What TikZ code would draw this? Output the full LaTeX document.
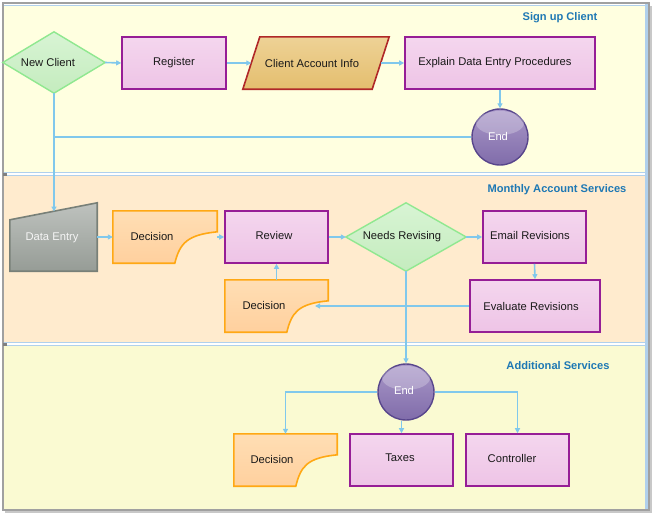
\documentclass[tikz,border=0pt]{standalone}
\usepackage{fontspec}
\setmainfont{Liberation Sans}
\usetikzlibrary{arrows.meta,calc}
\definecolor{connblue}{RGB}{128,200,236}
\definecolor{laneA}{RGB}{255,255,224}
\definecolor{laneB}{RGB}{255,235,206}
\definecolor{laneC}{RGB}{250,250,210}
\definecolor{laneline}{RGB}{176,208,236}
\definecolor{framegray}{RGB}{160,160,160}
\definecolor{shadowgray}{RGB}{200,200,200}
\definecolor{procborder}{RGB}{150,30,150}
\definecolor{proctop}{RGB}{244,214,238}
\definecolor{procbot}{RGB}{238,196,230}
\definecolor{decborder}{RGB}{144,232,144}
\definecolor{dectop}{RGB}{216,244,212}
\definecolor{decbot}{RGB}{196,236,190}
\definecolor{docborder}{RGB}{255,168,20}
\definecolor{doctop}{RGB}{255,222,180}
\definecolor{docbot}{RGB}{255,208,158}
\definecolor{databorder}{RGB}{176,40,40}
\definecolor{datatop}{RGB}{238,210,150}
\definecolor{databot}{RGB}{228,190,110}
\definecolor{inborder}{RGB}{120,128,120}
\definecolor{intop}{RGB}{190,194,190}
\definecolor{inbot}{RGB}{150,156,150}
\definecolor{endborder}{RGB}{88,70,140}
\definecolor{endtop}{RGB}{170,152,200}
\definecolor{endbot}{RGB}{128,108,170}
\definecolor{titleblue}{RGB}{30,120,180}
\begin{document}
\begin{tikzpicture}[x=1pt,y=-1pt,
  lbl/.style={font=\fontsize{11.2}{13}\selectfont,text=black!90},
  conn/.style={draw=connblue,line width=1.6pt},
  arr/.style={conn,-{Triangle[length=5pt,width=5pt]}},
  holder/.style={draw=none,inner sep=0pt,lbl},
  procbox/.style={draw=procborder,line width=1.6pt,top color=proctop,bottom color=procbot,inner sep=0pt,lbl},
  decshape/.style={draw=decborder,line width=1.4pt,top color=dectop,bottom color=decbot},
  docshape/.style={draw=docborder,line width=1.6pt,top color=doctop,bottom color=docbot},
  datashape/.style={draw=databorder,line width=1.6pt,top color=datatop,bottom color=databot},
  inshape/.style={draw=inborder,line width=1.6pt,top color=intop,bottom color=inbot},
  endball/.style={circle,draw=endborder,line width=1.4pt,top color=endtop,bottom color=endbot,minimum size=56pt,inner sep=0pt,font=\fontsize{11.2}{13}\selectfont,text=white},
  gloss/.style={fill=white,fill opacity=0.25,draw=none},
  lanetitle/.style={font=\bfseries\fontsize{11.1}{13}\selectfont,text=titleblue}
]
\useasboundingbox (0,0) rectangle (653,514);
% frame and lanes
\fill[shadowgray] (5,6) rectangle (652,513);
\fill[white] (3,3) rectangle (649,510);
\fill[laneA] (4,5) rectangle (645,172);
\fill[laneB] (4,175) rectangle (645,342);
\fill[laneC] (4,345) rectangle (645,509);
\fill[laneline] (645,4) rectangle (648,509);
\draw[laneline,line width=1pt] (4,5) -- (645,5);
\draw[laneline,line width=1pt] (4,172) -- (645,172) (4,175.5) -- (645,175.5);
\draw[laneline,line width=1pt] (4,342) -- (645,342) (4,345.5) -- (645,345.5);
\draw[framegray,line width=1.5pt] (3,3) rectangle (649,510);
\fill[framegray!80!black] (3,172.5) rectangle (7,175.5);
\fill[framegray!80!black] (3,342.5) rectangle (7,345.5);
% lane titles
\node[lanetitle] (t1) at (560,18) {Sign up Client};
\node[lanetitle] (t2) at (557,190) {Monthly Account Services};
\node[lanetitle] (t3) at (558,366) {Additional Services};
% ---- lane 1
\node[holder,minimum width=102pt,minimum height=61pt] (nc) at (54,62.5) {};
\path[decshape] (nc.north) -- (nc.east) -- (nc.south) -- (nc.west) -- cycle;
\node[lbl] (nct) at (48,62) {New Client};
\node[procbox,minimum width=104pt,minimum height=52pt] (reg) at (174,63) {Register};
\node[holder,minimum width=146pt,minimum height=52pt] (cai) at (316,63) {};
\path[datashape] ($(cai.north west)+(17,0)$) -- (cai.north east) -- ($(cai.south east)+(-17,0)$) -- (cai.south west) -- cycle;
\node[lbl] (cait) at (312,63) {Client Account Info};
\coordinate (caiin) at ($(cai.west)+(8.5,0)$);
\coordinate (caiout) at ($(cai.east)+(-8.5,0)$);
\node[procbox,minimum width=190pt,minimum height=52pt] (expl) at (500,63) {};
\node[lbl] (explt) at (495,63) {Explain Data Entry Procedures};
\node[endball] (end1) at (500,137) {};
\fill[gloss] (500,123) ellipse (24pt and 12pt);
\node[font=\fontsize{11.2}{13}\selectfont,text=white] (end1t) at (498,136) {End};
\draw[arr] (nc.east) -- (reg.west);
\draw[arr] (reg.east) -- (caiin);
\draw[arr] (caiout) -- (expl.west);
\draw[arr] (expl.south) -- (end1.north);
% ---- lane 2
\node[holder,minimum width=87pt,minimum height=68pt] (de) at (53.5,237) {};
\path[inshape] (de.south west) -- ($(de.north west)+(0,17)$) -- (de.north east) -- (de.south east) -- cycle;
\node[font=\fontsize{11.2}{13}\selectfont,text=white!92!gray] (det) at (52,238) {Data Entry};
\coordinate (dein) at (54,211.5);
\draw[arr] (nc.south) -- (dein);
\draw[conn] (end1.west) -- (end1.west -| nc.south);
\node[holder,minimum width=104pt,minimum height=52pt] (d1) at (165,237) {};
\path[docshape] (d1.north west) -- (d1.north east) -- ($(d1.north east)+(0,21)$)
  .. controls ($(d1.north east)+(-30,24)$) and ($(d1.south west)+(67,-20)$) .. ($(d1.south west)+(62,0)$)
  -- (d1.south west) -- cycle;
\node[lbl] (d1t) at (152,236) {Decision};
\node[procbox,minimum width=103pt,minimum height=52pt] (rev) at (276.5,237) {};
\node[lbl] (revt) at (274,235) {Review};
\node[holder,minimum width=103pt,minimum height=52pt] (d2) at (276.5,306) {};
\path[docshape] (d2.north west) -- (d2.north east) -- ($(d2.north east)+(0,21)$)
  .. controls ($(d2.north east)+(-30,24)$) and ($(d2.south west)+(67,-20)$) .. ($(d2.south west)+(62,0)$)
  -- (d2.south west) -- cycle;
\node[lbl] (d2t) at (264,305) {Decision};
\coordinate (d2in) at (315,306);
\node[holder,minimum width=120pt,minimum height=68pt] (nr) at (406,237) {};
\path[decshape] (nr.north) -- (nr.east) -- (nr.south) -- (nr.west) -- cycle;
\node[lbl] (nrt) at (402,237) {Needs Revising};
\node[procbox,minimum width=103pt,minimum height=52pt] (em) at (534.5,237) {};
\node[lbl] (emt) at (530,235) {Email Revisions};
\node[procbox,minimum width=130pt,minimum height=52pt] (ev) at (535,306) {};
\node[lbl] (evt) at (531,306) {Evaluate Revisions};
\draw[arr] (de.east) -- (d1.west);
\draw[arr] (d1.east) -- (rev.west);
\draw[arr] (rev.east) -- (nr.west);
\draw[arr] (nr.east) -- (em.west);
\draw[arr] (em.south) -- (ev.north);
\draw[arr] (ev.west) -- (d2in);
\draw[arr] (d2.north) -- (rev.south);
% ---- lane 3
\node[endball] (end2) at (406,392) {};
\fill[gloss] (406,378) ellipse (24pt and 12pt);
\node[font=\fontsize{11.2}{13}\selectfont,text=white] (end2t) at (404,390) {End};
\draw[arr] (nr.south) -- (end2.north);
\node[holder,minimum width=103pt,minimum height=52pt] (d3) at (285.5,460) {};
\path[docshape] (d3.north west) -- (d3.north east) -- ($(d3.north east)+(0,21)$)
  .. controls ($(d3.north east)+(-30,24)$) and ($(d3.south west)+(67,-20)$) .. ($(d3.south west)+(62,0)$)
  -- (d3.south west) -- cycle;
\node[lbl] (d3t) at (272,459) {Decision};
\node[procbox,minimum width=103pt,minimum height=52pt] (tax) at (401.5,460) {};
\node[lbl] (taxt) at (400,458) {Taxes};
\node[procbox,minimum width=103pt,minimum height=52pt] (ctl) at (517.5,460) {};
\node[lbl] (ctlt) at (512,458) {Controller};
\draw[arr] (end2.west) -| (d3.north);
\draw[arr] (tax.north |- end2.south) -- (tax.north);
\draw[arr] (end2.east) -| (ctl.north);
\end{tikzpicture}
\end{document}
